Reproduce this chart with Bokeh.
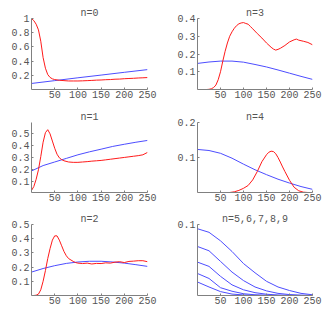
from bokeh.plotting import figure
from bokeh.layouts import row, column
from bokeh.models import Range1d, FixedTicker, CustomJSTickFormatter
from bokeh.embed import file_html
from bokeh.resources import INLINE

# ---------------- data ----------------
x_ticks = [50, 100, 150, 200, 250]

# n=0
red0_x = [0, 5, 10, 15, 20, 25, 30, 35, 40, 45, 50, 60, 70, 80, 90, 100, 110, 120, 130, 140,
          150, 160, 170, 180, 190, 200, 210, 220, 230, 240, 250]
red0_y = [1.0, 0.97, 0.92, 0.84, 0.68, 0.45, 0.30, 0.21, 0.17, 0.15, 0.14, 0.13, 0.125, 0.12, 0.12,
          0.12, 0.122, 0.125, 0.128, 0.132, 0.134, 0.138, 0.14, 0.145, 0.147, 0.152, 0.155, 0.158,
          0.162, 0.165, 0.168]
blue0_x = [0, 50, 100, 150, 200, 250]
blue0_y = [0.085, 0.125, 0.165, 0.203, 0.242, 0.28]

# n=1
red1_x = [0, 5, 10, 15, 20, 25, 30, 35, 40, 45, 50, 55, 60, 65, 70, 80, 90, 100, 110, 120, 130,
          140, 150, 160, 170, 180, 190, 200, 210, 220, 230, 240, 250]
red1_y = [0.027, 0.06, 0.12, 0.2, 0.31, 0.43, 0.51, 0.535, 0.50, 0.44, 0.38, 0.33, 0.30, 0.285,
          0.275, 0.265, 0.262, 0.262, 0.265, 0.268, 0.272, 0.275, 0.278, 0.283, 0.288, 0.293,
          0.298, 0.303, 0.308, 0.313, 0.318, 0.325, 0.345]
blue1_x = [0, 25, 50, 75, 100, 125, 150, 175, 200, 225, 250]
blue1_y = [0.19, 0.235, 0.265, 0.295, 0.325, 0.35, 0.372, 0.395, 0.413, 0.43, 0.445]

# n=2
red2_x = [0, 5, 10, 15, 20, 25, 30, 35, 40, 45, 50, 55, 60, 65, 70, 75, 80, 85, 90, 95, 100, 110,
          120, 130, 140, 150, 160, 170, 180, 190, 200, 210, 220, 230, 240, 250]
red2_y = [0.0, 0.0, 0.002, 0.01, 0.04, 0.1, 0.175, 0.26, 0.33, 0.39, 0.42, 0.42, 0.39, 0.35, 0.31,
          0.28, 0.26, 0.25, 0.24, 0.232, 0.228, 0.225, 0.228, 0.222, 0.226, 0.225, 0.23, 0.228,
          0.235, 0.238, 0.232, 0.24, 0.242, 0.245, 0.245, 0.238]
blue2_x = [0, 25, 50, 75, 100, 125, 150, 175, 200, 225, 250]
blue2_y = [0.165, 0.19, 0.21, 0.226, 0.236, 0.241, 0.241, 0.236, 0.228, 0.217, 0.205]

# n=3
red3_x = [0, 10, 20, 25, 30, 35, 40, 45, 50, 55, 60, 65, 70, 75, 80, 85, 90, 95, 100, 105, 110,
          115, 120, 130, 140, 150, 160, 165, 170, 175, 180, 190, 200, 210, 215, 220, 230, 240, 250]
red3_y = [0.0, 0.0, 0.0, 0.001, 0.004, 0.011, 0.025, 0.055, 0.1, 0.16, 0.215, 0.262, 0.3, 0.325,
          0.345, 0.36, 0.37, 0.375, 0.377, 0.372, 0.368, 0.355, 0.342, 0.315, 0.29, 0.262, 0.238,
          0.228, 0.222, 0.226, 0.232, 0.248, 0.268, 0.28, 0.284, 0.278, 0.272, 0.265, 0.252]
blue3_x = [0, 25, 50, 75, 100, 125, 150, 175, 200, 225, 250]
blue3_y = [0.147, 0.155, 0.16, 0.16, 0.154, 0.141, 0.127, 0.11, 0.092, 0.074, 0.057]

# n=4
red4_x = [0, 70, 80, 90, 100, 110, 120, 130, 140, 150, 155, 160, 165, 170, 175, 180, 185, 190,
          200, 210, 220, 230, 240, 250]
red4_y = [0.0, 0.0, 0.002, 0.006, 0.012, 0.02, 0.036, 0.06, 0.088, 0.108, 0.115, 0.118, 0.117,
          0.111, 0.1, 0.087, 0.073, 0.06, 0.035, 0.015, 0.005, 0.001, 0.0, 0.0]
blue4_x = [0, 25, 50, 75, 100, 125, 150, 175, 200, 225, 250]
blue4_y = [0.123, 0.12, 0.112, 0.098, 0.081, 0.065, 0.051, 0.038, 0.027, 0.017, 0.009]

# n=5..9
tail_x = [0, 25, 50, 75, 100, 125, 150, 175, 200, 225, 250]
blue5_y = [0.094, 0.089, 0.077, 0.062, 0.045, 0.032, 0.02, 0.012, 0.007, 0.003, 0.001]
blue6_y = [0.069, 0.063, 0.048, 0.033, 0.021, 0.012, 0.0065, 0.003, 0.0013, 0.0005, 0.0002]
blue7_y = [0.047, 0.041, 0.027, 0.015, 0.008, 0.004, 0.0018, 0.0007, 0.0003, 0.0001, 0.0]
blue8_y = [0.031, 0.024, 0.011, 0.006, 0.0025, 0.001, 0.0004, 0.0001, 0.0, 0.0, 0.0]
blue9_y = [0.019, 0.012, 0.0055, 0.002, 0.0008, 0.0003, 0.0001, 0.0, 0.0, 0.0, 0.0]

RED = "#ff1a1a"
BLUE = "#4d4dff"
GREY = "#555555"
FONT = "Liberation Mono"

Y_FMT = CustomJSTickFormatter(code="return (Math.abs(tick - 1) < 1e-9) ? '1' : tick.toFixed(1);")


def panel(title, y0, y1, yticks, w, h, bl, br, bt, bb):
    p = figure(width=w, height=h, x_range=Range1d(0, 250), y_range=Range1d(y0, y1),
               output_backend="svg", toolbar_location=None, title=title,
               min_border_left=bl, min_border_right=br, min_border_top=bt, min_border_bottom=bb)
    p.grid.visible = False
    p.outline_line_color = None
    p.title.align = "center"
    p.title.text_font = FONT
    p.title.text_font_size = "10px"
    p.title.text_font_style = "normal"
    p.title.text_color = GREY
    p.title.standoff = 0
    p.xaxis.ticker = FixedTicker(ticks=x_ticks)
    p.yaxis.ticker = FixedTicker(ticks=yticks)
    p.yaxis.formatter = Y_FMT
    for ax in (p.xaxis[0], p.yaxis[0]):
        ax.axis_line_color = "#808080"
        ax.major_tick_line_color = "#808080"
        ax.major_tick_in = 2
        ax.major_tick_out = 0
        ax.minor_tick_line_color = None
        ax.major_label_text_font = FONT
        ax.major_label_text_font_size = "10px"
        ax.major_label_text_color = GREY
        ax.major_label_standoff = 2
    p.xaxis.major_label_standoff = 1
    return p


LW = 1.0
# row 1
p0 = panel("n=0", 0.0, 1.0, [0.2, 0.4, 0.6, 0.8, 1.0], 166, 106, 31, 19, 18, 17)
p0.line(blue0_x, blue0_y, color=BLUE, line_width=LW)
p0.line(red0_x, red0_y, color=RED, line_width=LW)

p3 = panel("n=3", 0.0, 0.4, [0.1, 0.2, 0.3, 0.4], 167, 106, 31, 21, 18, 17)
p3.line(blue3_x, blue3_y, color=BLUE, line_width=LW)
p3.line(red3_x, red3_y, color=RED, line_width=LW)

# row 2
p1 = panel("n=1", 0.01, 0.595, [0.1, 0.2, 0.3, 0.4, 0.5], 166, 102, 31, 19, 16, 16)
p1.line(blue1_x, blue1_y, color=BLUE, line_width=LW)
p1.line(red1_x, red1_y, color=RED, line_width=LW)

p4 = panel("n=4", 0.0, 0.2, [0.1, 0.2], 167, 102, 31, 21, 16, 16)
p4.line(blue4_x, blue4_y, color=BLUE, line_width=LW)
p4.line(red4_x, red4_y, color=RED, line_width=LW)

# row 3
p2 = panel("n=2", 0.0, 0.5, [0.1, 0.2, 0.3, 0.4, 0.5], 166, 106, 31, 19, 16, 19)
p2.line(blue2_x, blue2_y, color=BLUE, line_width=LW)
p2.line(red2_x, red2_y, color=RED, line_width=LW)

p5 = panel("n=5,6,7,8,9", 0.0, 0.1, [0.1], 167, 106, 31, 21, 16, 19)
for ys in (blue5_y, blue6_y, blue7_y, blue8_y, blue9_y):
    p5.line(tail_x, ys, color=BLUE, line_width=LW)

layout = column(row(p0, p3, spacing=0), row(p1, p4, spacing=0), row(p2, p5, spacing=0), spacing=0)

open("out.html", "w").write(file_html(layout, INLINE))
